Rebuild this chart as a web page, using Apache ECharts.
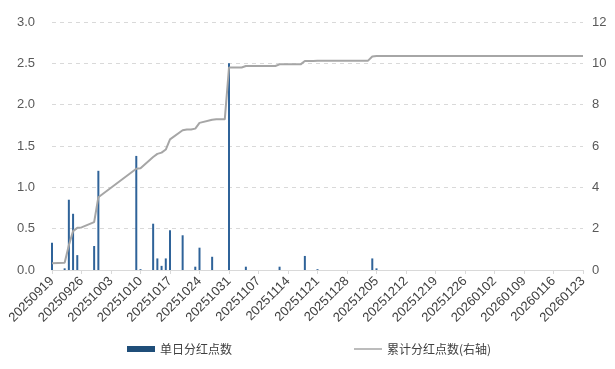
<!DOCTYPE html>
<html>
<head>
<meta charset="utf-8">
<script src="https://cdn.jsdelivr.net/npm/echarts@6/dist/echarts.min.js"></script>
<style>html,body{margin:0;padding:0;background:#fff}#c{width:615px;height:369px}</style>
</head>
<body>
<div id="c"></div>
<script>
var dates = [
'20250919','20250920','20250921','20250922','20250923','20250924','20250925','20250926','20250927','20250928','20250929','20250930',
'20251001','20251002','20251003','20251004','20251005','20251006','20251007','20251008','20251009','20251010','20251011','20251012','20251013','20251014','20251015','20251016','20251017','20251018','20251019','20251020','20251021','20251022','20251023','20251024','20251025','20251026','20251027','20251028','20251029','20251030','20251031',
'20251101','20251102','20251103','20251104','20251105','20251106','20251107','20251108','20251109','20251110','20251111','20251112','20251113','20251114','20251115','20251116','20251117','20251118','20251119','20251120','20251121','20251122','20251123','20251124','20251125','20251126','20251127','20251128','20251129','20251130',
'20251201','20251202','20251203','20251204','20251205','20251206','20251207','20251208','20251209','20251210','20251211','20251212','20251213','20251214','20251215','20251216','20251217','20251218','20251219','20251220','20251221','20251222','20251223','20251224','20251225','20251226','20251227','20251228','20251229','20251230','20251231',
'20260101','20260102','20260103','20260104','20260105','20260106','20260107','20260108','20260109','20260110','20260111','20260112','20260113','20260114','20260115','20260116','20260117','20260118','20260119','20260120','20260121','20260122','20260123'
];

// 单日分红点数 (left axis)
var barDates = ['20250919','20250922','20250923','20250924','20250925','20250929','20250930','20251009','20251010','20251013','20251014','20251015','20251016','20251017','20251020','20251023','20251024','20251027','20251031','20251104','20251112','20251118','20251121','20251204','20251205'];
var barValues = [0.33,0.02,0.85,0.68,0.18,0.29,1.20,1.38,0.01,0.56,0.14,0.05,0.14,0.48,0.42,0.04,0.27,0.16,2.50,0.04,0.04,0.17,0.01,0.14,0.02];

// 累计分红点数 (right axis), null = non-trading day
var n = null;
var cumValues = [
0.33,n,n,0.35,1.2,1.88,2.04,2.06,n,n,2.32,3.52,
n,n,n,n,n,n,n,n,4.9,4.92,n,n,5.47,5.62,5.68,5.83,6.32,n,n,6.76,6.8,6.8,6.84,7.12,n,n,7.27,7.29,7.29,7.29,9.8,
n,n,9.8,9.87,9.87,9.87,9.87,n,n,9.87,9.87,9.95,9.95,9.95,n,n,9.95,10.11,10.11,10.11,10.13,n,n,10.13,10.13,10.13,10.13,10.13,n,n,
10.13,10.13,10.13,10.33,10.35,n,n,10.35,10.35,10.35,10.35,10.35,n,n,10.35,10.35,10.35,10.35,10.35,n,n,10.35,10.35,10.35,10.35,10.35,n,n,10.35,10.35,10.35,
n,n,n,n,10.35,10.35,10.35,10.35,10.35,n,n,10.35,10.35,10.35,10.35,10.35,n,n,10.35,10.35,10.35,10.35,10.35
];

var leftTicks = {min:0, max:3, interval:0.5};
var rightTicks = {min:0, max:12, interval:2};

var barData = dates.map(function(d){ var i = barDates.indexOf(d); return i >= 0 ? barValues[i] : null; });

var chart = echarts.init(document.getElementById('c'), null, {renderer:'canvas'});
var numFont = 'Liberation Sans, Arial, sans-serif';
chart.setOption({
  animation:false,
  textStyle:{fontFamily:numFont},
  grid:{left:52, right:32, top:22, bottom:99},
  legend:{
    left:122, top:338, itemGap:122, itemWidth:28, itemHeight:6,
    textStyle:{fontFamily:'Noto Sans CJK SC', fontSize:12, color:'#404040'},
    data:[
      {name:'单日分红点数', icon:'rect', itemStyle:{color:'#1f4e79'}},
      {name:'累计分红点数(右轴)', icon:'path://M0,2.2H28V3.8H0Z M0,0H0.001V6H0Z', itemStyle:{color:'#a6a6a6', borderWidth:0}}
    ]
  },
  xAxis:{
    type:'category', data:dates, boundaryGap:false,
    axisLine:{lineStyle:{color:'#d9d9d9'}},
    axisTick:{interval:6, length:4, lineStyle:{color:'#d9d9d9'}},
    axisLabel:{interval:6, rotate:45, fontSize:13, color:'#404040', margin:9, fontFamily:numFont}
  },
  yAxis:[{
    type:'value', min:leftTicks.min, max:leftTicks.max, interval:leftTicks.interval,
    axisLine:{show:false}, axisTick:{show:false},
    axisLabel:{fontSize:13, color:'#595959', margin:17, formatter:function(v){return v.toFixed(1);}},
    splitLine:{lineStyle:{color:'#d9d9d9', type:[4,4]}}
  },{
    type:'value', min:rightTicks.min, max:rightTicks.max, interval:rightTicks.interval,
    axisLine:{show:false}, axisTick:{show:false},
    axisLabel:{fontSize:13, color:'#595959', margin:9},
    splitLine:{show:false}
  }],
  series:[{
    name:'单日分红点数', type:'bar', data:barData, barWidth:2, yAxisIndex:0,
    itemStyle:{color:'#2f6399'}
  },{
    name:'累计分红点数(右轴)', type:'line', data:cumValues, yAxisIndex:1, connectNulls:true,
    symbol:'none', lineStyle:{color:'#a6a6a6', width:2}, itemStyle:{color:'#a6a6a6'}
  }]
});
</script>
</body>
</html>
